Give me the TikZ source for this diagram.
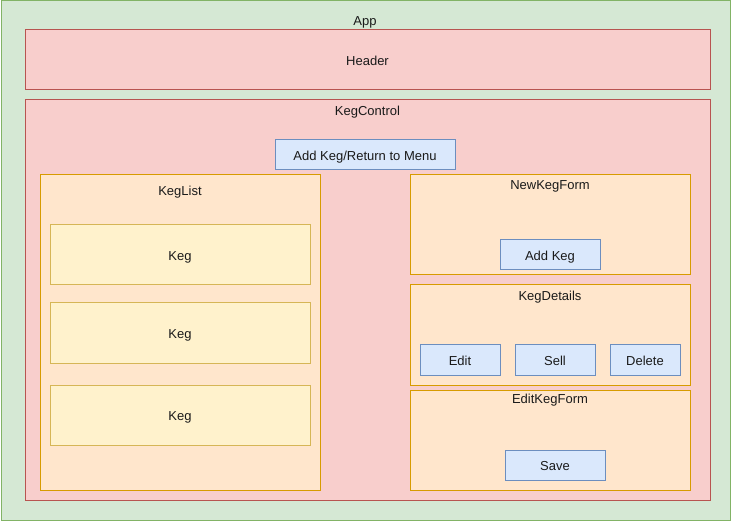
\documentclass[tikz,border=0pt]{standalone}
\usepackage{fontspec}
\setmainfont{Liberation Sans}
\definecolor{gfill}{HTML}{D5E8D4}\definecolor{gline}{HTML}{82B366}
\definecolor{rfill}{HTML}{F8CECC}\definecolor{rline}{HTML}{B85450}
\definecolor{ofill}{HTML}{FFE6CC}\definecolor{oline}{HTML}{D79B00}
\definecolor{yfill}{HTML}{FFF2CC}\definecolor{yline}{HTML}{D6B656}
\definecolor{bfill}{HTML}{DAE8FC}\definecolor{bline}{HTML}{6C8EBF}
\definecolor{txt}{HTML}{1A1A1A}
\tikzset{
  gbox/.style={draw=gline,fill=gfill,line width=1pt},
  rbox/.style={draw=rline,fill=rfill,line width=1pt},
  obox/.style={draw=oline,fill=ofill,line width=1pt},
  ybox/.style={draw=yline,fill=yfill,line width=1pt},
  bbox/.style={draw=bline,fill=bfill,line width=1pt},
  lbl/.style={font=\fontsize{13pt}{15pt}\selectfont,text=txt,inner sep=0pt,anchor=base,yshift=-4.6pt}
}
\begin{document}
\begin{tikzpicture}[x=1pt,y=-1pt]
\useasboundingbox (0,0) rectangle (731,521);
\draw[gbox] (1,1) rectangle (730,520);
\node[lbl] (app) at (365,20.5) {App};
\draw[rbox] (25,30) rectangle (710,90);
\node[lbl] (header) at (367.5,60.5) {Header};
\draw[rbox] (25,100) rectangle (710,500);
\node[lbl] (kc) at (367.5,110.5) {KegControl};
\draw[bbox] (275,140) rectangle (455,170);
\node[lbl] (addret) at (365,155.5) {Add Keg/Return to Menu};
% KegList
\draw[obox] (40,175) rectangle (320,490);
\node[lbl] (kl) at (180,190.5) {KegList};
\draw[ybox] (50,225) rectangle (310,285);
\node[lbl] (k1) at (180,255.5) {Keg};
\draw[ybox] (50,303) rectangle (310,363);
\node[lbl] (k2) at (180,333.5) {Keg};
\draw[ybox] (50,385) rectangle (310,445);
\node[lbl] (k3) at (180,415.5) {Keg};
% NewKegForm
\draw[obox] (410,175) rectangle (690,275);
\node[lbl] (nkf) at (550,185) {NewKegForm};
\draw[bbox] (500,240) rectangle (600,270);
\node[lbl] (addk) at (550,255.5) {Add Keg};
% KegDetails
\draw[obox] (410,285) rectangle (690,385);
\node[lbl] (kd) at (550,295.5) {KegDetails};
\draw[bbox] (420,345) rectangle (500,375);
\node[lbl] (edit) at (460,360.5) {Edit};
\draw[bbox] (515,345) rectangle (595,375);
\node[lbl] (sell) at (555,360.5) {Sell};
\draw[bbox] (610,345) rectangle (680,375);
\node[lbl] (del) at (645,360.5) {Delete};
% EditKegForm
\draw[obox] (410,390) rectangle (690,490);
\node[lbl] (ekf) at (550,399) {EditKegForm};
\draw[bbox] (505,450) rectangle (605,480);
\node[lbl] (save) at (555,465.5) {Save};
\end{tikzpicture}
\end{document}
